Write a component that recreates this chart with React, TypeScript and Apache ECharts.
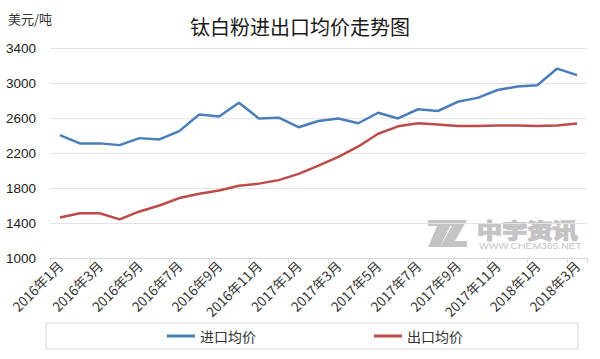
import React, { useEffect, useRef } from "react";
import * as echarts from "echarts";

const categories: string[] = [
  "2016年1月", "2016年2月", "2016年3月", "2016年4月", "2016年5月", "2016年6月",
  "2016年7月", "2016年8月", "2016年9月", "2016年10月", "2016年11月", "2016年12月",
  "2017年1月", "2017年2月", "2017年3月", "2017年4月", "2017年5月", "2017年6月",
  "2017年7月", "2017年8月", "2017年9月", "2017年10月", "2017年11月", "2017年12月",
  "2018年1月", "2018年2月", "2018年3月",
];

const importPrice: number[] = [
  2405, 2310, 2310, 2290, 2370, 2355, 2450, 2640, 2618, 2775, 2595, 2603,
  2495, 2565, 2595, 2540, 2660, 2595, 2700, 2680, 2785, 2830, 2920, 2960,
  2975, 3165, 3090,
];

const exportPrice: number[] = [
  1462, 1512, 1512, 1442, 1532, 1600, 1685, 1735, 1772, 1825, 1850, 1890,
  1962, 2055, 2155, 2275, 2420, 2505, 2540, 2525, 2508, 2508, 2515, 2515,
  2508, 2515, 2538,
];

const seriesNames: string[] = ["进口均价", "出口均价"];
const titleText = "钛白粉进出口均价走势图";
const unitText = "美元/吨";

export default function App() {
  const ref = useRef<HTMLDivElement>(null);
  useEffect(() => {
    document.body.style.margin = "0";
    if (!ref.current) return;
    const chart = echarts.init(ref.current, null, { renderer: "svg" });
    const gray = "#c4c4c4";
    chart.setOption({
      animation: false,
      backgroundColor: "#ffffff",
      title: {
        text: titleText,
        left: "center",
        top: 11,
        textStyle: {
          fontFamily: "Noto Sans CJK SC",
          fontSize: 20,
          fontWeight: "normal",
          color: "#1a1a1a",
        },
      },
      grid: { left: 50, right: 13, top: 48, bottom: 101, containLabel: false },
      legend: {
        data: seriesNames,
        left: 167,
        top: 329,
        padding: 0,
        itemGap: 118,
        itemWidth: 28,
        itemHeight: 3,
        icon: "rect",
        textStyle: { fontFamily: "Noto Sans CJK SC", fontSize: 14, color: "#333" },
      },
      xAxis: {
        type: "category",
        data: categories,
        boundaryGap: true,
        axisLine: { lineStyle: { color: "#d9d9d9" } },
        axisTick: { show: true, interval: 1, length: 5, lineStyle: { color: "#d9d9d9" } },
        axisLabel: {
          interval: 1,
          rotate: 45,
          margin: 5,
          fontSize: 13.5,
          fontFamily: "Noto Sans CJK SC",
          color: "#333",
        },
      },
      yAxis: {
        type: "value",
        min: 1000,
        max: 3400,
        interval: 400,
        axisLine: { show: false },
        axisTick: { show: false },
        splitLine: { lineStyle: { color: "#e3e3e3" } },
        axisLabel: {
          margin: 14,
          fontSize: 13.5,
          fontFamily: "Liberation Sans",
          color: "#222",
          formatter: (v: number) => String(v),
        },
      },
      graphic: [
        {
          type: "text",
          left: 8,
          top: 12,
          style: {
            text: unitText,
            fontSize: 13,
            fontFamily: "Noto Sans CJK SC",
            fill: "#333",
          },
        },
        {
          type: "rect",
          shape: { x: 46, y: 323, width: 532, height: 26 },
          style: { fill: "none", stroke: "#d9d9d9", lineWidth: 1 },
          z: -1,
        },
        {
          type: "polygon",
          shape: {
            points: [
              [428, 220], [453, 220], [440, 247], [428, 247], [437, 226], [428, 226],
            ],
          },
          style: { fill: gray },
          z: -1,
        },
        {
          type: "polygon",
          shape: {
            points: [
              [447, 220], [467, 220], [455, 241], [467, 241], [467, 247], [440, 247], [452, 226], [447, 226],
            ],
          },
          style: { fill: gray },
          z: -1,
        },
        {
          type: "text",
          x: 477,
          y: 218,
          scaleX: 1.2,
          style: {
            text: "中宇资讯",
            fontSize: 21,
            fontWeight: "bold",
            fontFamily: "Noto Sans CJK SC",
            fill: gray,
            stroke: gray,
            lineWidth: 1.5,
          },
          z: -1,
        },
        {
          type: "text",
          x: 479,
          y: 241,
          scaleX: 1.15,
          style: {
            text: "WWW.CHEM365.NET",
            fontSize: 9,
            fontFamily: "Liberation Sans",
            fill: gray,
          },
          z: -1,
        },
      ],
      series: [
        {
          name: seriesNames[0],
          type: "line",
          data: importPrice,
          symbol: "none",
          lineStyle: { width: 2.5, color: "#4a7ebb" },
          itemStyle: { color: "#4a7ebb" },
        },
        {
          name: seriesNames[1],
          type: "line",
          data: exportPrice,
          symbol: "none",
          lineStyle: { width: 2.5, color: "#be4b48" },
          itemStyle: { color: "#be4b48" },
        },
      ],
    });
    return () => chart.dispose();
  }, []);
  return <div ref={ref} style={{ width: 600, height: 359 }} />;
}
